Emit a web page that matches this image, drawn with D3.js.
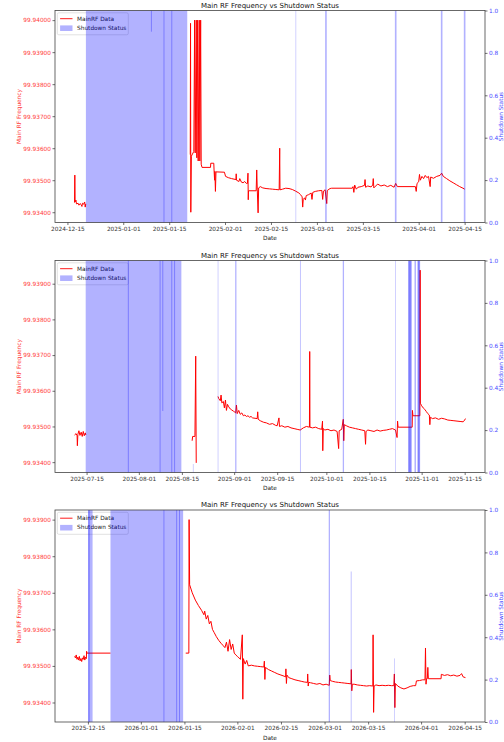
<!DOCTYPE html>
<html>
<head>
<meta charset="utf-8">
<script src="https://cdn.jsdelivr.net/npm/d3@7"></script>
<style>
body { margin: 0; background: #fff; }
text { font-family: "DejaVu Sans", sans-serif; }
</style>
</head>
<body>
<svg id="chart"></svg>
<script>
const width = 504, height = 742;
const plotLeft = 55, plotRight = 485;
const panelTops = [10.5, 260.5, 510];
const plotH = 212;

const titleText = "Main RF Frequency vs Shutdown Status";
const legendLabels = ["MainRF Data", "Shutdown Status"];
const statusTicks = [0, 0.2, 0.4, 0.6, 0.8, 1.0];

// ---- panel 1 : Dec 2024 - Apr 2025 ----
const freq1 = [
  ["2024-12-17 04:00", 99.93430], ["2024-12-17 06:00", 99.93516], ["2024-12-17 08:00", 99.93432],
  ["2024-12-17 14:00", 99.93438], ["2024-12-17 18:00", 99.93426], ["2024-12-18 06:00", 99.93428],
  ["2024-12-18 12:00", 99.93422], ["2024-12-18 20:00", 99.93427], ["2024-12-19 04:00", 99.93424],
  ["2024-12-19 10:00", 99.93418], ["2024-12-19 14:00", 99.93428], ["2024-12-19 22:00", 99.93425],
  ["2024-12-20 06:00", 99.93432], ["2024-12-20 10:00", 99.93416], ["2024-12-20 14:00", 99.93426],
  null,
  ["2025-01-21 10:00", 99.93580], ["2025-01-21 12:00", 99.93990], ["2025-01-21 14:00", 99.93400],
  ["2025-01-21 18:00", 99.93575], ["2025-01-22 12:00", 99.93590], ["2025-01-22 18:00", 99.94000],
  ["2025-01-22 22:00", 99.93585], ["2025-01-23 06:00", 99.94000], ["2025-01-23 10:00", 99.93570],
  ["2025-01-23 16:00", 99.94000], ["2025-01-23 20:00", 99.93560], ["2025-01-24 04:00", 99.94000],
  ["2025-01-24 08:00", 99.93560], ["2025-01-24 14:00", 99.94000], ["2025-01-24 18:00", 99.93550],
  ["2025-01-25 00:00", 99.93540], ["2025-01-27 14:00", 99.93540], ["2025-01-27 16:00", 99.93553],
  ["2025-01-28 14:00", 99.93553], ["2025-01-28 16:00", 99.93532], ["2025-01-28 20:00", 99.93500],
  ["2025-01-28 22:00", 99.93528], ["2025-01-29 02:00", 99.93465], ["2025-01-29 06:00", 99.93526],
  ["2025-01-31 20:00", 99.93525], ["2025-02-01 04:00", 99.93512], ["2025-02-02 00:00", 99.93508],
  ["2025-02-03 00:00", 99.93505], ["2025-02-04 08:00", 99.93502], ["2025-02-04 10:00", 99.93520],
  ["2025-02-04 12:00", 99.93500], ["2025-02-05 06:00", 99.93496], ["2025-02-05 12:00", 99.93505],
  ["2025-02-06 00:00", 99.93494], ["2025-02-06 12:00", 99.93492], ["2025-02-07 00:00", 99.93496],
  ["2025-02-07 12:00", 99.93490], ["2025-02-07 20:00", 99.93490], ["2025-02-08 00:00", 99.93522],
  ["2025-02-08 02:00", 99.93439], ["2025-02-08 04:00", 99.93467], ["2025-02-10 12:00", 99.93467],
  ["2025-02-10 16:00", 99.93532], ["2025-02-10 20:00", 99.93470], ["2025-02-11 02:00", 99.93398],
  ["2025-02-11 06:00", 99.93476], ["2025-02-11 18:00", 99.93480], ["2025-02-12 12:00", 99.93476],
  ["2025-02-13 12:00", 99.93474], ["2025-02-14 12:00", 99.93473], ["2025-02-15 12:00", 99.93472],
  ["2025-02-16 12:00", 99.93471], ["2025-02-17 12:00", 99.93470], ["2025-02-17 16:00", 99.93600],
  ["2025-02-17 18:00", 99.93470], ["2025-02-18 12:00", 99.93472], ["2025-02-19 12:00", 99.93475],
  ["2025-02-20 12:00", 99.93474], ["2025-02-21 12:00", 99.93471], ["2025-02-22 12:00", 99.93466],
  ["2025-02-23 12:00", 99.93460], ["2025-02-24 00:00", 99.93455], ["2025-02-24 12:00", 99.93448],
  ["2025-02-24 16:00", 99.93416], ["2025-02-24 20:00", 99.93440], ["2025-02-25 06:00", 99.93445],
  ["2025-02-25 12:00", 99.93438], ["2025-02-25 18:00", 99.93452], ["2025-02-26 12:00", 99.93455],
  ["2025-02-27 06:00", 99.93460], ["2025-02-27 12:00", 99.93440], ["2025-02-27 18:00", 99.93462],
  ["2025-02-28 12:00", 99.93465], ["2025-03-01 12:00", 99.93467], ["2025-03-02 12:00", 99.93468],
  ["2025-03-02 18:00", 99.93440], ["2025-03-03 00:00", 99.93466], ["2025-03-03 12:00", 99.93470],
  ["2025-03-04 00:00", 99.93427], ["2025-03-04 04:00", 99.93468], ["2025-03-05 00:00", 99.93474],
  ["2025-03-05 12:00", 99.93475], ["2025-03-11 18:00", 99.93475], ["2025-03-12 00:00", 99.93480],
  ["2025-03-12 06:00", 99.93462], ["2025-03-12 12:00", 99.93485], ["2025-03-13 00:00", 99.93472],
  ["2025-03-13 12:00", 99.93478], ["2025-03-14 12:00", 99.93480], ["2025-03-15 12:00", 99.93484],
  ["2025-03-15 16:00", 99.93502], ["2025-03-15 20:00", 99.93478], ["2025-03-16 12:00", 99.93482],
  ["2025-03-17 12:00", 99.93479], ["2025-03-18 00:00", 99.93485], ["2025-03-18 04:00", 99.93505],
  ["2025-03-18 08:00", 99.93476], ["2025-03-19 12:00", 99.93488], ["2025-03-20 12:00", 99.93482],
  ["2025-03-21 12:00", 99.93485], ["2025-03-22 12:00", 99.93480], ["2025-03-23 12:00", 99.93484],
  ["2025-03-24 12:00", 99.93478], ["2025-03-25 00:00", 99.93490], ["2025-03-25 12:00", 99.93480],
  ["2025-03-31 00:00", 99.93480], ["2025-03-31 06:00", 99.93465], ["2025-03-31 12:00", 99.93490],
  ["2025-04-01 00:00", 99.93495], ["2025-04-01 06:00", 99.93518], ["2025-04-01 12:00", 99.93500],
  ["2025-04-02 00:00", 99.93512], ["2025-04-02 12:00", 99.93505], ["2025-04-03 00:00", 99.93515],
  ["2025-04-03 12:00", 99.93508], ["2025-04-04 00:00", 99.93512], ["2025-04-04 12:00", 99.93480],
  ["2025-04-04 16:00", 99.93510], ["2025-04-05 12:00", 99.93506], ["2025-04-06 12:00", 99.93512],
  ["2025-04-07 12:00", 99.93515], ["2025-04-08 00:00", 99.93522], ["2025-04-08 12:00", 99.93512],
  ["2025-04-09 12:00", 99.93505], ["2025-04-10 12:00", 99.93498], ["2025-04-11 12:00", 99.93492],
  ["2025-04-12 12:00", 99.93486], ["2025-04-13 12:00", 99.93480], ["2025-04-14 12:00", 99.93475],
  ["2025-04-15 00:00", 99.93472]
];
const shut1 = [
  ["2024-12-20 15:00", "2025-01-20 12:00", 1],
  ["2025-02-22 12:00", "2025-02-22 16:00", 1],
  ["2025-03-03 12:00", "2025-03-04 00:00", 1],
  ["2025-03-24 18:00", "2025-03-25 06:00", 1],
  ["2025-04-07 18:00", "2025-04-08 06:00", 1],
  ["2025-04-14 18:00", "2025-04-15 06:00", 1]
];
const edges1 = [
  ["2025-01-09 14:00", 0.9, 1],
  ["2025-01-13 10:00", 0, 1],
  ["2025-01-15 19:00", 0, 1]
];

// ---- panel 2 : Jul - Nov 2025 ----
const freq2 = [
  ["2025-07-11 02:00", 99.93476], ["2025-07-11 14:00", 99.93480], ["2025-07-11 22:00", 99.93474],
  ["2025-07-12 00:00", 99.93446], ["2025-07-12 04:00", 99.93478], ["2025-07-12 12:00", 99.93488],
  ["2025-07-12 20:00", 99.93475], ["2025-07-13 06:00", 99.93484], ["2025-07-13 14:00", 99.93472],
  ["2025-07-13 22:00", 99.93486], ["2025-07-14 06:00", 99.93474], ["2025-07-14 14:00", 99.93482],
  ["2025-07-14 18:00", 99.93476],
  null,
  ["2025-08-18 08:00", 99.93460], ["2025-08-18 12:00", 99.93472], ["2025-08-19 06:00", 99.93472],
  ["2025-08-19 12:00", 99.93697], ["2025-08-19 16:00", 99.93398],
  null,
  ["2025-08-26 18:00", 99.93584], ["2025-08-27 00:00", 99.93578], ["2025-08-27 12:00", 99.93572],
  ["2025-08-27 18:00", 99.93588], ["2025-08-28 00:00", 99.93566], ["2025-08-28 12:00", 99.93570],
  ["2025-08-28 20:00", 99.93552], ["2025-08-29 04:00", 99.93574], ["2025-08-29 12:00", 99.93545],
  ["2025-08-29 20:00", 99.93562], ["2025-08-30 06:00", 99.93555], ["2025-08-30 18:00", 99.93549],
  ["2025-08-31 06:00", 99.93546], ["2025-08-31 18:00", 99.93543], ["2025-09-01 06:00", 99.93540],
  ["2025-09-01 12:00", 99.93538], ["2025-09-01 18:00", 99.93560], ["2025-09-02 00:00", 99.93536],
  ["2025-09-02 12:00", 99.93545], ["2025-09-03 00:00", 99.93534], ["2025-09-03 12:00", 99.93538],
  ["2025-09-04 00:00", 99.93530], ["2025-09-04 12:00", 99.93532], ["2025-09-05 00:00", 99.93528],
  ["2025-09-05 12:00", 99.93530], ["2025-09-06 00:00", 99.93526], ["2025-09-06 12:00", 99.93528],
  ["2025-09-07 00:00", 99.93524], ["2025-09-08 12:00", 99.93522], ["2025-09-08 16:00", 99.93541],
  ["2025-09-08 20:00", 99.93520], ["2025-09-09 12:00", 99.93516], ["2025-09-10 12:00", 99.93512],
  ["2025-09-11 12:00", 99.93510], ["2025-09-12 12:00", 99.93506], ["2025-09-13 12:00", 99.93508],
  ["2025-09-14 12:00", 99.93503], ["2025-09-15 00:00", 99.93502], ["2025-09-15 14:00", 99.93524],
  ["2025-09-15 18:00", 99.93500], ["2025-09-16 12:00", 99.93502], ["2025-09-17 12:00", 99.93498],
  ["2025-09-18 12:00", 99.93500], ["2025-09-19 12:00", 99.93496], ["2025-09-20 12:00", 99.93494],
  ["2025-09-21 12:00", 99.93492], ["2025-09-22 12:00", 99.93490], ["2025-09-23 12:00", 99.93496],
  ["2025-09-24 12:00", 99.93500], ["2025-09-25 12:00", 99.93498], ["2025-09-25 14:00", 99.93710],
  ["2025-09-25 16:00", 99.93498], ["2025-09-26 12:00", 99.93496], ["2025-09-27 12:00", 99.93498],
  ["2025-09-28 12:00", 99.93494], ["2025-09-29 12:00", 99.93492], ["2025-09-29 18:00", 99.93515],
  ["2025-09-29 20:00", 99.93432], ["2025-09-30 00:00", 99.93494], ["2025-09-30 12:00", 99.93490],
  ["2025-10-01 12:00", 99.93492], ["2025-10-02 12:00", 99.93488], ["2025-10-03 12:00", 99.93490],
  ["2025-10-04 12:00", 99.93486], ["2025-10-05 00:00", 99.93438], ["2025-10-05 04:00", 99.93488],
  ["2025-10-06 00:00", 99.93492], ["2025-10-06 12:00", 99.93520], ["2025-10-06 16:00", 99.93460],
  ["2025-10-06 20:00", 99.93505], ["2025-10-07 12:00", 99.93502], ["2025-10-08 12:00", 99.93498],
  ["2025-10-09 12:00", 99.93496], ["2025-10-10 12:00", 99.93494], ["2025-10-11 12:00", 99.93492],
  ["2025-10-12 12:00", 99.93490], ["2025-10-13 12:00", 99.93488], ["2025-10-13 18:00", 99.93450],
  ["2025-10-13 22:00", 99.93486], ["2025-10-14 12:00", 99.93490], ["2025-10-15 12:00", 99.93488],
  ["2025-10-16 12:00", 99.93486], ["2025-10-17 12:00", 99.93490], ["2025-10-18 12:00", 99.93487],
  ["2025-10-19 12:00", 99.93489], ["2025-10-20 12:00", 99.93490], ["2025-10-21 12:00", 99.93492],
  ["2025-10-22 12:00", 99.93494], ["2025-10-23 12:00", 99.93490], ["2025-10-24 00:00", 99.93469],
  ["2025-10-24 04:00", 99.93515], ["2025-10-24 08:00", 99.93498], ["2025-10-28 22:00", 99.93498],
  ["2025-10-29 00:00", 99.93545], ["2025-10-29 04:00", 99.93530], ["2025-10-31 10:00", 99.93530],
  ["2025-10-31 12:00", 99.93938], ["2025-10-31 14:00", 99.93565], ["2025-11-01 00:00", 99.93558],
  ["2025-11-01 12:00", 99.93552], ["2025-11-02 00:00", 99.93548], ["2025-11-02 12:00", 99.93542],
  ["2025-11-03 00:00", 99.93536], ["2025-11-03 12:00", 99.93532], ["2025-11-03 16:00", 99.93505],
  ["2025-11-03 20:00", 99.93526], ["2025-11-04 12:00", 99.93522], ["2025-11-05 12:00", 99.93524],
  ["2025-11-06 12:00", 99.93520], ["2025-11-07 12:00", 99.93523], ["2025-11-08 12:00", 99.93521],
  ["2025-11-09 12:00", 99.93518], ["2025-11-10 12:00", 99.93517], ["2025-11-11 12:00", 99.93516],
  ["2025-11-12 12:00", 99.93515], ["2025-11-13 12:00", 99.93514], ["2025-11-14 12:00", 99.93513],
  ["2025-11-15 00:00", 99.93518], ["2025-11-15 06:00", 99.93522]
];
const shut2 = [
  ["2025-07-14 17:00", "2025-08-14 20:00", 1],
  ["2025-08-18 14:00", "2025-08-18 18:00", 0.04],
  ["2025-08-26 16:00", "2025-08-26 20:00", 1],
  ["2025-09-01 08:00", "2025-09-01 18:00", 1],
  ["2025-09-22 10:00", "2025-09-22 16:00", 1],
  ["2025-10-06 08:00", "2025-10-06 18:00", 1],
  ["2025-10-23 08:00", "2025-10-23 12:00", 1],
  ["2025-10-27 14:00", "2025-10-28 20:00", 1],
  ["2025-10-27 18:00", "2025-10-28 12:00", 1],
  ["2025-10-29 16:00", "2025-10-30 04:00", 1],
  ["2025-10-30 14:00", "2025-10-31 12:00", 1],
  ["2025-10-30 20:00", "2025-10-31 08:00", 1]
];
const edges2 = [
  ["2025-07-28 14:00", 0, 1],
  ["2025-08-07 22:00", 0, 1],
  ["2025-08-08 19:00", 0.29, 1],
  ["2025-08-11 17:00", 0, 1],
  ["2025-08-12 15:00", 0, 1]
];

// ---- panel 3 : Dec 2025 - Apr 2026 ----
const freq3 = [
  ["2025-12-10 17:00", 99.93526], ["2025-12-11 00:00", 99.93522], ["2025-12-11 06:00", 99.93530],
  ["2025-12-11 12:00", 99.93518], ["2025-12-11 18:00", 99.93524], ["2025-12-12 00:00", 99.93516],
  ["2025-12-12 06:00", 99.93526], ["2025-12-12 12:00", 99.93514], ["2025-12-12 18:00", 99.93520],
  ["2025-12-13 00:00", 99.93512], ["2025-12-13 06:00", 99.93522], ["2025-12-13 12:00", 99.93518],
  ["2025-12-13 18:00", 99.93528], ["2025-12-14 00:00", 99.93516], ["2025-12-14 06:00", 99.93524],
  ["2025-12-14 12:00", 99.93520], ["2025-12-14 14:00", 99.93540], ["2025-12-14 16:00", 99.93535],
  ["2025-12-22 06:00", 99.93535],
  null,
  ["2026-01-15 10:00", 99.93535], ["2026-01-16 10:00", 99.93535], ["2026-01-16 12:00", 99.93900],
  ["2026-01-16 16:00", 99.93722], ["2026-01-17 12:00", 99.93700], ["2026-01-18 12:00", 99.93680],
  ["2026-01-19 12:00", 99.93665], ["2026-01-20 12:00", 99.93652], ["2026-01-21 06:00", 99.93640],
  ["2026-01-21 12:00", 99.93650], ["2026-01-22 00:00", 99.93628], ["2026-01-22 12:00", 99.93638],
  ["2026-01-23 00:00", 99.93615], ["2026-01-23 12:00", 99.93622], ["2026-01-24 00:00", 99.93600],
  ["2026-01-24 12:00", 99.93592], ["2026-01-25 06:00", 99.93580], ["2026-01-26 00:00", 99.93570],
  ["2026-01-26 18:00", 99.93562], ["2026-01-27 12:00", 99.93555], ["2026-01-28 00:00", 99.93550],
  ["2026-01-28 12:00", 99.93565], ["2026-01-29 00:00", 99.93540], ["2026-01-29 12:00", 99.93572],
  ["2026-01-30 00:00", 99.93545], ["2026-01-30 12:00", 99.93560], ["2026-01-31 00:00", 99.93535],
  ["2026-01-31 12:00", 99.93530], ["2026-02-01 00:00", 99.93526], ["2026-02-01 12:00", 99.93522],
  ["2026-02-02 00:00", 99.93518], ["2026-02-02 14:00", 99.93585], ["2026-02-02 18:00", 99.93409],
  ["2026-02-02 22:00", 99.93520], ["2026-02-03 12:00", 99.93505], ["2026-02-04 00:00", 99.93515],
  ["2026-02-04 12:00", 99.93500], ["2026-02-05 12:00", 99.93502], ["2026-02-06 12:00", 99.93500],
  ["2026-02-07 12:00", 99.93499], ["2026-02-08 12:00", 99.93498], ["2026-02-09 12:00", 99.93497],
  ["2026-02-09 16:00", 99.93513], ["2026-02-09 20:00", 99.93463], ["2026-02-10 00:00", 99.93496],
  ["2026-02-11 00:00", 99.93490], ["2026-02-12 00:00", 99.93486], ["2026-02-13 00:00", 99.93482],
  ["2026-02-14 00:00", 99.93478], ["2026-02-15 00:00", 99.93475], ["2026-02-16 00:00", 99.93472],
  ["2026-02-16 12:00", 99.93470], ["2026-02-16 14:00", 99.93492], ["2026-02-16 18:00", 99.93452],
  ["2026-02-16 22:00", 99.93475], ["2026-02-17 12:00", 99.93468], ["2026-02-18 12:00", 99.93465],
  ["2026-02-19 12:00", 99.93462], ["2026-02-20 12:00", 99.93460], ["2026-02-21 12:00", 99.93458],
  ["2026-02-22 12:00", 99.93456], ["2026-02-23 12:00", 99.93455], ["2026-02-23 14:00", 99.93478],
  ["2026-02-23 18:00", 99.93445], ["2026-02-23 22:00", 99.93455], ["2026-02-24 12:00", 99.93454],
  ["2026-02-25 12:00", 99.93452], ["2026-02-26 12:00", 99.93450], ["2026-02-27 12:00", 99.93452],
  ["2026-02-28 12:00", 99.93448], ["2026-03-01 12:00", 99.93450], ["2026-03-02 12:00", 99.93447],
  ["2026-03-02 16:00", 99.93475], ["2026-03-02 20:00", 99.93460], ["2026-03-03 12:00", 99.93458],
  ["2026-03-04 12:00", 99.93456], ["2026-03-05 12:00", 99.93455], ["2026-03-06 12:00", 99.93454],
  ["2026-03-07 12:00", 99.93453], ["2026-03-08 12:00", 99.93452], ["2026-03-09 12:00", 99.93451],
  ["2026-03-09 14:00", 99.93490], ["2026-03-09 18:00", 99.93432], ["2026-03-09 22:00", 99.93450],
  ["2026-03-10 12:00", 99.93450], ["2026-03-11 12:00", 99.93448], ["2026-03-12 12:00", 99.93447],
  ["2026-03-13 12:00", 99.93446], ["2026-03-14 12:00", 99.93445], ["2026-03-15 12:00", 99.93446],
  ["2026-03-16 12:00", 99.93445], ["2026-03-16 14:00", 99.93585], ["2026-03-16 18:00", 99.93373],
  ["2026-03-16 22:00", 99.93445], ["2026-03-17 12:00", 99.93448], ["2026-03-18 12:00", 99.93446],
  ["2026-03-19 12:00", 99.93447], ["2026-03-20 12:00", 99.93446], ["2026-03-21 12:00", 99.93447],
  ["2026-03-22 12:00", 99.93446], ["2026-03-23 06:00", 99.93446], ["2026-03-23 10:00", 99.93478],
  ["2026-03-23 14:00", 99.93386], ["2026-03-23 18:00", 99.93452], ["2026-03-24 12:00", 99.93445],
  ["2026-03-25 12:00", 99.93440], ["2026-03-26 12:00", 99.93437], ["2026-03-27 12:00", 99.93440],
  ["2026-03-28 12:00", 99.93444], ["2026-03-29 12:00", 99.93446], ["2026-03-30 06:00", 99.93446],
  ["2026-03-30 12:00", 99.93459], ["2026-03-31 12:00", 99.93460], ["2026-04-01 12:00", 99.93462],
  ["2026-04-02 06:00", 99.93462], ["2026-04-02 10:00", 99.93549], ["2026-04-02 14:00", 99.93450],
  ["2026-04-02 18:00", 99.93465], ["2026-04-03 00:00", 99.93465], ["2026-04-03 04:00", 99.93496],
  ["2026-04-03 08:00", 99.93465], ["2026-04-07 10:00", 99.93465], ["2026-04-07 12:00", 99.93477],
  ["2026-04-08 12:00", 99.93474], ["2026-04-09 12:00", 99.93476], ["2026-04-10 12:00", 99.93473],
  ["2026-04-11 12:00", 99.93475], ["2026-04-12 12:00", 99.93472], ["2026-04-13 12:00", 99.93474],
  ["2026-04-14 00:00", 99.93479], ["2026-04-14 12:00", 99.93470], ["2026-04-15 06:00", 99.93468]
];
const shut3 = [
  ["2025-12-15 02:00", "2025-12-16 12:00", 1],
  ["2025-12-15 02:00", "2025-12-15 14:00", 1],
  ["2025-12-22 06:00", "2026-01-14 14:00", 1],
  ["2026-03-02 08:00", "2026-03-02 18:00", 1],
  ["2026-03-09 10:00", "2026-03-09 16:00", 0.71],
  ["2026-03-23 08:00", "2026-03-23 12:00", 0.3]
];
const edges3 = [
  ["2026-01-08 10:00", 0, 1],
  ["2026-01-12 12:00", 0, 1],
  ["2026-01-13 10:00", 0, 1]
];

const panels = [
  { freq: freq1, shut: shut1, edges: edges1 },
  { freq: freq2, shut: shut2, edges: edges2 },
  { freq: freq3, shut: shut3, edges: edges3 }
];

const parse = d3.timeParse("%Y-%m-%d %H:%M");
const fs = 5.8;
const svg = d3.select("#chart").attr("width", width).attr("height", height);

panels.forEach((p, i) => {
  const top = panelTops[i];
  const bottom = top + plotH;
  const pts = p.freq.map(d => d === null ? null : { t: parse(d[0]), v: d[1] });
  const bands = p.shut.map(d => ({ t0: parse(d[0]), t1: parse(d[1]), lv: d[2] }));
  const edges = p.edges.map(d => ({ t: parse(d[0]), lo: d[1], hi: d[2] }));
  const valid = pts.filter(d => d);

  // x extent from all data, 5% margin like matplotlib
  const allT = valid.map(d => d.t).concat(bands.flatMap(b => [b.t0, b.t1]));
  const [t0, t1] = d3.extent(allT);
  const tPad = (t1 - t0) * 0.05;
  const x = d3.scaleTime()
    .domain([new Date(+t0 - tPad), new Date(+t1 + tPad)])
    .range([plotLeft, plotRight]);

  const [v0, v1] = d3.extent(valid, d => d.v);
  const vPad = (v1 - v0) * 0.05;
  const y = d3.scaleLinear().domain([v0 - vPad, v1 + vPad]).range([bottom, top]);
  const yR = d3.scaleLinear().domain([0, 1]).range([bottom, top]);

  const g = svg.append("g");

  // red frequency line
  const line = d3.line().defined(d => d !== null).x(d => x(d.t)).y(d => y(d.v));
  g.append("path").datum(pts)
    .attr("d", line)
    .attr("fill", "none")
    .attr("stroke", "red")
    .attr("stroke-width", 1.0)
    .attr("stroke-linejoin", "round");

  // legend (sits under the twin axis fill, like the original)
  const lg = g.append("g").attr("transform", `translate(57.3,${top + 2.3})`);
  lg.append("rect").attr("width", 71).attr("height", 22).attr("rx", 1.5)
    .attr("fill", "#fff").attr("fill-opacity", 0.8)
    .attr("stroke", "#ccc").attr("stroke-width", 0.6);
  lg.append("line").attr("x1", 2.8).attr("x2", 15.2).attr("y1", 5.9).attr("y2", 5.9)
    .attr("stroke", "red").attr("stroke-width", 0.9);
  lg.append("rect").attr("x", 2.8).attr("y", 12.6).attr("width", 12.4).attr("height", 5.6)
    .attr("fill", "blue").attr("fill-opacity", 0.3);
  lg.selectAll("text.leg").data(legendLabels).join("text")
    .attr("x", 19.8).attr("y", (d, k) => 8 + k * 9)
    .attr("font-size", fs).attr("fill", "#222").text(d => d);

  // shutdown status fill on twin axis
  g.selectAll("rect.band").data(bands).join("rect")
    .attr("x", d => x(d.t0))
    .attr("width", d => Math.max(x(d.t1) - x(d.t0), 0.6))
    .attr("y", d => yR(d.lv))
    .attr("height", d => yR(0) - yR(d.lv))
    .attr("fill", "blue").attr("fill-opacity", 0.3);
  g.selectAll("line.edge").data(edges).join("line")
    .attr("x1", d => x(d.t)).attr("x2", d => x(d.t))
    .attr("y1", d => yR(d.lo)).attr("y2", d => yR(d.hi))
    .attr("stroke", "blue").attr("stroke-opacity", 0.3).attr("stroke-width", 1);

  // spines
  g.append("rect").attr("x", plotLeft).attr("y", top)
    .attr("width", plotRight - plotLeft).attr("height", plotH)
    .attr("fill", "none").attr("stroke", "#444").attr("stroke-width", 0.8);

  // axes
  const xTicks = d3.timeDay.range(x.domain()[0], x.domain()[1])
    .filter(d => d.getDate() === 1 || d.getDate() === 15);
  const xAxis = g.append("g").attr("transform", `translate(0,${bottom})`)
    .call(d3.axisBottom(x).tickValues(xTicks).tickFormat(d3.timeFormat("%Y-%m-%d"))
      .tickSize(2.5).tickPadding(1.8));
  const yTicks = d3.ticks(y.domain()[0], y.domain()[1], 6);
  const yAxis = g.append("g").attr("transform", `translate(${plotLeft},0)`)
    .call(d3.axisLeft(y).tickValues(yTicks).tickFormat(d3.format(".5f"))
      .tickSize(2.5).tickPadding(1.5));
  const rAxis = g.append("g").attr("transform", `translate(${plotRight},0)`)
    .call(d3.axisRight(yR).tickValues(statusTicks).tickFormat(d3.format(".1f"))
      .tickSize(2.5).tickPadding(1.5));
  [xAxis, yAxis, rAxis].forEach(a => {
    a.select(".domain").remove();
    a.selectAll(".tick line").attr("stroke", "#333").attr("stroke-width", 0.7);
    a.selectAll("text").attr("font-size", fs).attr("font-family", "DejaVu Sans");
  });
  xAxis.selectAll("text").attr("fill", "#333");
  yAxis.selectAll("text").attr("fill", "#ff3b3b");
  rAxis.selectAll("text").attr("fill", "#4a4aff");

  // titles and labels
  g.append("text").attr("x", (plotLeft + plotRight) / 2).attr("y", top - 2.6)
    .attr("text-anchor", "middle").attr("font-size", 7).attr("fill", "#111").text(titleText);
  g.append("text").attr("x", (plotLeft + plotRight) / 2).attr("y", bottom + 17.8)
    .attr("text-anchor", "middle").attr("font-size", fs).attr("fill", "#222").text("Date");
  g.append("text")
    .attr("transform", `translate(20.6,${top + plotH / 2}) rotate(-90)`)
    .attr("text-anchor", "middle").attr("font-size", fs).attr("fill", "#ff3b3b")
    .text("Main RF Frequency");
  g.append("text")
    .attr("transform", `translate(503.4,${top + plotH / 2}) rotate(-90)`)
    .attr("text-anchor", "middle").attr("font-size", fs).attr("fill", "#4a4aff")
    .text("Shutdown Status");
});
</script>
</body>
</html>
